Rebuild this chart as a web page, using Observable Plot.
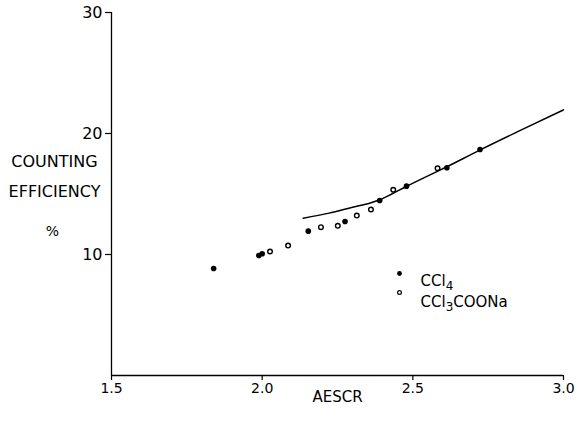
<!DOCTYPE html>
<html>
<head>
<meta charset="utf-8">
<script src="https://cdn.jsdelivr.net/npm/d3@7"></script>
<script src="https://cdn.jsdelivr.net/npm/@observablehq/plot@0.6"></script>
<style>
  html, body { margin: 0; padding: 0; background: #fff; }
  #chart svg { display: block; }
  #chart g[aria-label="x-axis tick label"] text { font-size: 14px; }
  #chart g[aria-label="y-axis tick label"] text { font-size: 16px; }
</style>
</head>
<body>
<div id="chart"></div>
<script>
// CCl4 (filled circles)
const ccl4X = [1.839, 1.989, 2.000, 2.153, 2.275, 2.390, 2.479, 2.613, 2.723];
const ccl4Y = [8.84, 9.92, 10.06, 11.93, 12.73, 14.46, 15.65, 17.17, 18.68];
// CCl3COONa (open circles)
const naX = [2.026, 2.086, 2.195, 2.251, 2.314, 2.361, 2.435, 2.582];
const naY = [10.25, 10.74, 12.26, 12.37, 13.22, 13.72, 15.35, 17.13];
// fitted curve
const curveX = [2.136, 2.222, 2.30, 2.35, 2.388, 2.43, 2.477, 2.538, 2.613, 2.724, 2.848, 3.0];
const curveY = [13.0, 13.42, 13.9, 14.2, 14.5, 15.0, 15.6, 16.35, 17.25, 18.65, 20.15, 21.95];
// ticks
const xTicks = [1.5, 2.0, 2.5, 3.0];
const yTicks = [10, 20, 30];
// legend labels: [main, subscript, rest]
const legendLabels = [["CCl", "4", ""], ["CCl", "3", "COONa"]];
const yLabelLines = ["COUNTING", "EFFICIENCY", "%"];

const ccl4 = ccl4X.map((x, i) => ({x, y: ccl4Y[i]}));
const na = naX.map((x, i) => ({x, y: naY[i]}));
const curve = curveX.map((x, i) => ({x, y: curveY[i]}));
const legendText = legendLabels.map(d => d.join(""));

const font = "DejaVu Sans, sans-serif";

const chart = Plot.plot({
  width: 577,
  height: 421,
  marginLeft: 111,
  marginRight: 14,
  marginTop: 12,
  marginBottom: 46,
  style: {fontFamily: font, fontSize: "14px", color: "#000", background: "#fff"},
  x: {domain: [1.5, 3.0]},
  y: {domain: [0, 30]},
  marks: [
    Plot.ruleY([0], {stroke: "#000", strokeWidth: 1.3}),
    Plot.ruleX([1.5], {stroke: "#000", strokeWidth: 1.3}),
    Plot.axisX({ticks: xTicks, tickFormat: d3.format(".1f"), tickSize: 5, tickPadding: 3, label: null, stroke: "#000", strokeWidth: 1.2}),
    Plot.axisY({ticks: yTicks, tickSize: 6, tickPadding: 3, label: null, stroke: "#000", strokeWidth: 1.2}),
    Plot.text(["AESCR"], {frameAnchor: "bottom", dy: 26, fontSize: 15, fill: "#000"}),
    Plot.text([yLabelLines[0]], {frameAnchor: "top-left", dx: -57, dy: 143, textAnchor: "middle", fontSize: 16, fill: "#000"}),
    Plot.text([yLabelLines[1]], {frameAnchor: "top-left", dx: -57, dy: 173, textAnchor: "middle", fontSize: 16, fill: "#000"}),
    Plot.text([yLabelLines[2]], {frameAnchor: "top-left", dx: -59, dy: 214, textAnchor: "middle", fontSize: 14, fill: "#000"}),
    Plot.line(curve, {x: "x", y: "y", curve: "monotone-x", stroke: "#000", strokeWidth: 1.5}),
    Plot.dot(na, {x: "x", y: "y", r: 2.3, fill: "#fff", stroke: "#000", strokeWidth: 1.4}),
    Plot.dot(ccl4, {x: "x", y: "y", r: 2.8, fill: "#000", stroke: "none"}),
    // legend
    Plot.dot([legendText[0]], {frameAnchor: "top-left", dx: 288, dy: 261, r: 2.4, fill: "#000", stroke: "none"}),
    Plot.dot([legendText[1]], {frameAnchor: "top-left", dx: 288, dy: 280, r: 1.9, fill: "#fff", stroke: "#000", strokeWidth: 1.2}),
    Plot.text([legendText[0]], {frameAnchor: "top-left", dx: 309, dy: 263, textAnchor: "start", fontSize: 15, fill: "#000"}),
    Plot.text([legendText[1]], {frameAnchor: "top-left", dx: 309, dy: 284, textAnchor: "start", fontSize: 15, fill: "#000"})
  ]
});
document.getElementById("chart").appendChild(chart);

// render subscripts in the legend labels
chart.querySelectorAll("text").forEach(t => {
  const idx = legendText.indexOf(t.textContent);
  if (idx < 0) return;
  const [a, sub, rest] = legendLabels[idx];
  while (t.firstChild) t.removeChild(t.firstChild);
  const ns = "http://www.w3.org/2000/svg";
  const t1 = document.createElementNS(ns, "tspan"); t1.textContent = a; t.appendChild(t1);
  const t2 = document.createElementNS(ns, "tspan"); t2.textContent = sub;
  t2.setAttribute("dy", "4"); t2.setAttribute("font-size", "12"); t.appendChild(t2);
  if (rest) {
    const t3 = document.createElementNS(ns, "tspan"); t3.textContent = rest;
    t3.setAttribute("dy", "-4"); t.appendChild(t3);
  }
});
</script>
</body>
</html>
